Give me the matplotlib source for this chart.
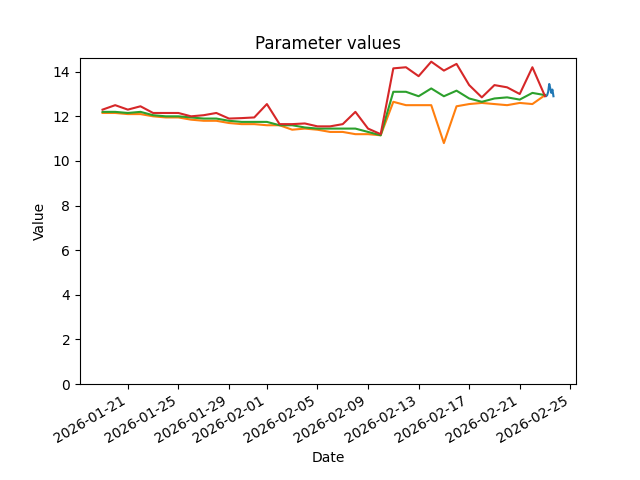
import matplotlib
matplotlib.use("Agg")
import matplotlib.pyplot as plt
import pandas as pd

# daily series, 2026-01-19 .. 2026-02-23
dates = pd.date_range("2026-01-19", "2026-02-23", freq="D")

param_a = [12.15, 12.15, 12.1, 12.1, 12.0, 11.95, 11.95, 11.85, 11.8, 11.8,
           11.7, 11.65, 11.65, 11.6, 11.6, 11.4, 11.45, 11.4, 11.3, 11.3,
           11.2, 11.2, 11.15, 12.65, 12.5, 12.5, 12.5, 10.8, 12.45, 12.55,
           12.6, 12.55, 12.5, 12.6, 12.55, 12.95]
param_b = [12.2, 12.2, 12.15, 12.2, 12.05, 12.0, 12.0, 11.95, 11.9, 11.9,
           11.8, 11.75, 11.75, 11.75, 11.6, 11.6, 11.5, 11.45, 11.45, 11.45,
           11.45, 11.3, 11.15, 13.1, 13.1, 12.9, 13.25, 12.9, 13.15, 12.8,
           12.65, 12.8, 12.85, 12.75, 13.05, 12.95]
param_c = [12.3, 12.5, 12.3, 12.45, 12.15, 12.15, 12.15, 12.0, 12.05, 12.15,
           11.9, 11.92, 11.95, 12.55, 11.65, 11.65, 11.68, 11.55, 11.55, 11.65,
           12.2, 11.45, 11.2, 14.15, 14.2, 13.8, 14.45, 14.05, 14.35, 13.4,
           12.85, 13.4, 13.3, 13.0, 14.2, 12.9]

# intraday readings on the last day
recent_times = pd.date_range("2026-02-23 00:00", periods=9, freq="120min")
recent_vals = [12.95, 12.9, 12.95, 13.1, 13.45, 13.25, 13.05, 13.2, 12.9]

fig, ax = plt.subplots(figsize=(6.4, 4.8))
ax.plot(recent_times, recent_vals)
ax.plot(dates, param_a)
ax.plot(dates, param_b)
ax.plot(dates, param_c)
ax.set_ylim(bottom=0)
ax.set_title("Parameter values")
ax.set_xlabel("Date")
ax.set_ylabel("Value")
fig.autofmt_xdate()
fig.savefig("out.png", dpi=100)
